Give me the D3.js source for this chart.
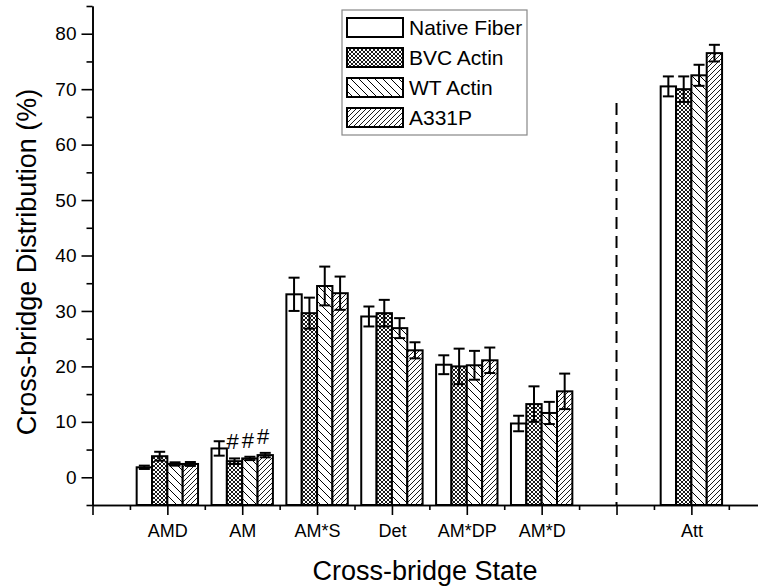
<!DOCTYPE html>
<html><head><meta charset="utf-8">
<script src="https://cdn.jsdelivr.net/npm/d3@7"></script>
<style>body{margin:0;background:#fff}svg{display:block}text{font-family:"Liberation Sans",Arial,sans-serif;fill:#000}</style>
</head><body><svg id="c" width="758" height="588"></svg>
<script>
// ---- data ----
const categories = ["AMD", "AM", "AM*S", "Det", "AM*DP", "AM*D", "Att"];
const categoryPositions = [1, 2, 3, 4, 5, 6, 8];
const seriesNames = ["Native Fiber", "BVC Actin", "WT Actin", "A331P"];
const nativeFiber    = [1.8, 5.2, 33.0, 29.0, 20.3, 9.7, 70.5];
const nativeFiberErr = [0.3, 1.3, 3.0, 1.8, 1.7, 1.4, 1.8];
const bvcActin       = [3.8, 2.9, 29.6, 29.6, 20.0, 13.2, 70.0];
const bvcActinErr    = [0.8, 0.5, 2.8, 2.4, 3.2, 3.2, 2.3];
const wtActin        = [2.4, 3.4, 34.5, 26.9, 20.2, 11.6, 72.5];
const wtActinErr     = [0.3, 0.3, 3.5, 1.8, 2.6, 2.0, 1.9];
const a331p          = [2.4, 4.0, 33.2, 22.9, 21.1, 15.5, 76.5];
const a331pErr       = [0.35, 0.4, 3.0, 1.45, 2.3, 3.2, 1.5];
const yTicks = [0, 10, 20, 30, 40, 50, 60, 70, 80];
const yMinorTicks = [-5, 5, 15, 25, 35, 45, 55, 65, 75, 85];
const xDomain = [0, 8.89];
const yDomain = [-5, 85];
const dividerPosition = 7;
const dividerRange = [-5, 67.5];
const annotations = [
  {category: "AM", series: 1, text: "#"},
  {category: "AM", series: 2, text: "#"},
  {category: "AM", series: 3, text: "#"}
];
const xTitle = "Cross-bridge State";
const yTitle = "Cross-bridge Distribution (%)";

const values = [nativeFiber, bvcActin, wtActin, a331p];
const errors = [nativeFiberErr, bvcActinErr, wtActinErr, a331pErr];
const patterns = ["none", "pCross", "pBack", "pFwd"];

// ---- layout ----
const svg = d3.select("#c");
const x = d3.scaleLinear().domain(xDomain).range([92.5, 758]);
const y = d3.scaleLinear().domain(yDomain).range([505, 6]);
const groupW = 0.82, barW = groupW / 4;

// patterns
const defs = svg.append("defs");
function pat(id, size, d, sw) {
  const p = defs.append("pattern").attr("id", id).attr("patternUnits", "userSpaceOnUse")
    .attr("width", size).attr("height", size);
  p.append("rect").attr("width", size).attr("height", size).attr("fill", "#fff");
  p.append("path").attr("d", d).attr("stroke", "#000").attr("stroke-width", sw).attr("fill", "none");
}
pat("pCross", 4, "M-1,-1L5,5M-1,3L1,5M3,-1L5,1M-1,5L5,-1M-1,1L1,-1M3,5L5,3", 0.9);
pat("pBack", 8, "M-2,-2L10,10M-2,6L2,10M6,-2L10,2", 1);
pat("pFwd", 5, "M-1,1L1,-1M0,5L5,0M4,6L6,4", 0.9);
const fillOf = i => i === 0 ? "#fff" : `url(#${patterns[i]})`;

// bars
const g = svg.append("g");
seriesNames.forEach((s, si) => {
  const data = categories.map((c, ci) => ({c, pos: categoryPositions[ci], v: values[si][ci], e: errors[si][ci]}));
  g.selectAll(null).data(data).enter().append("rect")
    .attr("x", d => x(d.pos - groupW / 2 + si * barW))
    .attr("width", d => x(d.pos - groupW / 2 + (si + 1) * barW) - x(d.pos - groupW / 2 + si * barW))
    .attr("y", d => y(d.v))
    .attr("height", d => y(yDomain[0]) - y(d.v))
    .attr("fill", fillOf(si)).attr("stroke", "#000").attr("stroke-width", 2);
});
// error bars
seriesNames.forEach((s, si) => {
  const data = categories.map((c, ci) => ({pos: categoryPositions[ci] - groupW / 2 + (si + 0.5) * barW, v: values[si][ci], e: errors[si][ci]}));
  const eg = g.selectAll(null).data(data).enter().append("g").attr("stroke", "#000").attr("stroke-width", 2);
  eg.append("line").attr("x1", d => x(d.pos)).attr("x2", d => x(d.pos)).attr("y1", d => y(d.v - d.e)).attr("y2", d => y(d.v + d.e));
  eg.append("line").attr("x1", d => x(d.pos) - 5.5).attr("x2", d => x(d.pos) + 5.5).attr("y1", d => y(d.v + d.e)).attr("y2", d => y(d.v + d.e));
  eg.append("line").attr("x1", d => x(d.pos) - 5.5).attr("x2", d => x(d.pos) + 5.5).attr("y1", d => y(d.v - d.e)).attr("y2", d => y(d.v - d.e));
});
// annotations
annotations.forEach(a => {
  const ci = categories.indexOf(a.category);
  const pos = categoryPositions[ci] - groupW / 2 + (a.series + 0.5) * barW;
  const top = values[a.series][ci] + errors[a.series][ci];
  svg.append("text").attr("x", x(pos) - 2).attr("y", y(top) - 9).attr("text-anchor", "middle")
    .attr("font-size", 22).text(a.text);
});

// divider
svg.append("line").attr("x1", x(dividerPosition)).attr("x2", x(dividerPosition))
  .attr("y1", y(dividerRange[1])).attr("y2", y(dividerRange[0]))
  .attr("stroke", "#000").attr("stroke-width", 2).attr("stroke-dasharray", "12,7");

// axes
const yAxisG = svg.append("g").attr("transform", `translate(${x(0)},0)`);
yAxisG.call(d3.axisLeft(y).tickValues(yMinorTicks).tickSize(6).tickSizeOuter(0).tickFormat(""));
yAxisG.append("g").call(d3.axisLeft(y).tickValues(yTicks).tickSize(11).tickPadding(5).tickSizeOuter(0));
const xAxisG = svg.append("g").attr("transform", `translate(0,${y(yDomain[0])})`);
xAxisG.call(d3.axisBottom(x).tickValues(d3.range(0.5, 9, 1)).tickSize(5).tickSizeOuter(0).tickFormat(""));
xAxisG.append("g").call(d3.axisBottom(x).tickValues(d3.range(0, 9, 1)).tickSize(10).tickPadding(9).tickSizeOuter(0)
  .tickFormat(v => { const i = categoryPositions.indexOf(v); return i >= 0 ? categories[i] : ""; }));
svg.selectAll(".domain, .tick line").attr("stroke", "#000").attr("stroke-width", 1.6);
yAxisG.selectAll("text").attr("font-size", 19).attr("font-family", "Liberation Sans, Arial, sans-serif").attr("fill", "#000");
xAxisG.selectAll("text").attr("font-size", 18).attr("font-family", "Liberation Sans, Arial, sans-serif").attr("fill", "#000");

// titles
svg.append("text").attr("x", 425).attr("y", 580).attr("text-anchor", "middle").attr("font-size", 27).text(xTitle);
svg.append("text").attr("transform", "translate(36,262) rotate(-90)").attr("text-anchor", "middle").attr("font-size", 27).text(yTitle);

// legend
const lg = svg.append("g");
lg.append("rect").attr("x", 342).attr("y", 10).attr("width", 185).attr("height", 125)
  .attr("fill", "#fff").attr("stroke", "#888").attr("stroke-width", 1.2);
seriesNames.forEach((s, i) => {
  lg.append("rect").attr("x", 347).attr("y", 18 + i * 30).attr("width", 56).attr("height", 19)
    .attr("fill", fillOf(i)).attr("stroke", "#000").attr("stroke-width", 2);
  lg.append("text").attr("x", 409).attr("y", 35 + i * 30).attr("font-size", 21).text(s);
});
</script></body></html>
